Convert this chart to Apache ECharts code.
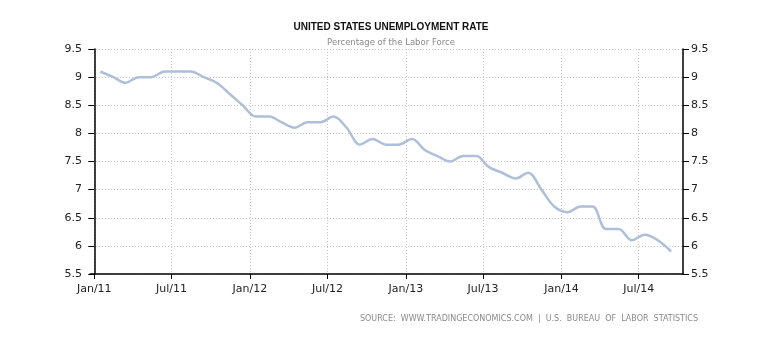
<!DOCTYPE html>
<html>
<head>
<meta charset="utf-8">
<title>United States Unemployment Rate</title>
<script src="https://cdn.jsdelivr.net/npm/echarts@6/dist/echarts.min.js"></script>
<style>
  html, body { margin: 0; padding: 0; background: #ffffff; }
  #chart { width: 772px; height: 348px; }
</style>
</head>
<body>
<div id="chart"></div>
<script>
// Monthly observations, plotted mid-month
const months = [
  '2011-01-15','2011-02-15','2011-03-15','2011-04-15','2011-05-15','2011-06-15',
  '2011-07-15','2011-08-15','2011-09-15','2011-10-15','2011-11-15','2011-12-15',
  '2012-01-15','2012-02-15','2012-03-15','2012-04-15','2012-05-15','2012-06-15',
  '2012-07-15','2012-08-15','2012-09-15','2012-10-15','2012-11-15','2012-12-15',
  '2013-01-15','2013-02-15','2013-03-15','2013-04-15','2013-05-15','2013-06-15',
  '2013-07-15','2013-08-15','2013-09-15','2013-10-15','2013-11-15','2013-12-15',
  '2014-01-15','2014-02-15','2014-03-15','2014-04-15','2014-05-15','2014-06-15',
  '2014-07-15','2014-08-15','2014-09-15'
];

// Unemployment rate, percent of labor force
const rates = [
  9.1, 9.0, 8.9, 9.0, 9.0, 9.1, 9.1, 9.1, 9.0, 8.9, 8.7, 8.5,
  8.3, 8.3, 8.2, 8.1, 8.2, 8.2, 8.3, 8.1, 7.8, 7.9, 7.8, 7.8,
  7.9, 7.7, 7.6, 7.5, 7.6, 7.6, 7.4, 7.3, 7.2, 7.3, 7.0, 6.7,
  6.6, 6.7, 6.7, 6.3, 6.3, 6.1, 6.2, 6.1, 5.9
];

// Half-year tick positions on the date axis
const tickDates = [
  '2011-01-01','2011-07-01','2012-01-01','2012-07-01',
  '2013-01-01','2013-07-01','2014-01-01','2014-07-01'
];
const tickLabels = ['Jan/11','Jul/11','Jan/12','Jul/12','Jan/13','Jul/13','Jan/14','Jul/14'];

// Visible date range of the x axis
const xRange = ['2010-12-22', '2014-10-13'];

// Value axis scale
const yMin = 5.5, yMax = 9.5, yStep = 0.5;

// Dates become day numbers counted from 2011-01-01
const DAY = 86400000;
const epoch = Date.UTC(2011, 0, 1);
function toDay(s) {
  const p = s.split('-').map(Number);
  return Math.round((Date.UTC(p[0], p[1] - 1, p[2]) - epoch) / DAY);
}

const tickDays = tickDates.map(toDay);
const labelByDay = {};
tickDays.forEach(function (d, i) { labelByDay[d] = tickLabels[i]; });

const seriesData = months.map(function (m, i) { return [toDay(m), rates[i]]; });

const axisFont = { fontFamily: 'DejaVu Sans', fontSize: 11, color: '#222222' };
const gridLine = { show: true, lineStyle: { color: '#c8c8c8', type: [1, 2], width: 1 } };

const chart = echarts.init(document.getElementById('chart'), null, { renderer: 'canvas' });

chart.setOption({
  animation: false,
  backgroundColor: '#ffffff',
  title: {
    text: 'UNITED STATES UNEMPLOYMENT RATE',
    subtext: 'Percentage of the Labor Force',
    left: 386,
    textAlign: 'center',
    top: 17,
    itemGap: 6,
    textStyle: { fontFamily: 'Liberation Sans', fontWeight: 'bold', fontSize: 10, color: '#111111' },
    subtextStyle: { fontFamily: 'DejaVu Sans', fontSize: 8.5, color: '#8a8a8a' }
  },
  grid: { left: 90, right: 89, top: 49, bottom: 74 },
  xAxis: {
    type: 'value',
    min: toDay(xRange[0]),
    max: toDay(xRange[1]),
    axisLine: { show: true, onZero: false, lineStyle: { color: '#000000', width: 1.5 } },
    axisTick: { show: true, length: 5, customValues: tickDays, lineStyle: { color: '#000000' } },
    axisLabel: Object.assign({
      customValues: tickDays,
      margin: 10,
      formatter: function (v) { return labelByDay[v] || ''; }
    }, axisFont),
    splitLine: gridLine
  },
  yAxis: [
    {
      type: 'value', position: 'left',
      min: yMin, max: yMax, interval: yStep,
      axisLine: { show: true, lineStyle: { color: '#000000', width: 1.5 } },
      axisTick: { show: true, length: 6, lineStyle: { color: '#000000' } },
      axisLabel: Object.assign({ margin: 8 }, axisFont),
      splitLine: gridLine
    },
    {
      type: 'value', position: 'right',
      min: yMin, max: yMax, interval: yStep,
      axisLine: { show: true, lineStyle: { color: '#000000', width: 1.5 } },
      axisTick: { show: true, length: 6, lineStyle: { color: '#000000' } },
      axisLabel: Object.assign({ margin: 8 }, axisFont),
      splitLine: { show: false }
    }
  ],
  graphic: [{
    type: 'text',
    right: 74,
    top: 315,
    style: {
      text: 'SOURCE:  WWW.TRADINGECONOMICS.COM  |  U.S.  BUREAU  OF  LABOR  STATISTICS',
      fontFamily: 'DejaVu Sans',
      fontSize: 8,
      fill: '#8a8a8a'
    }
  }],
  series: [{
    type: 'line',
    yAxisIndex: 0,
    data: seriesData,
    smooth: 0.35,
    showSymbol: false,
    lineStyle: { color: '#aec0d9', width: 2.5 }
  }]
});
</script>
</body>
</html>
